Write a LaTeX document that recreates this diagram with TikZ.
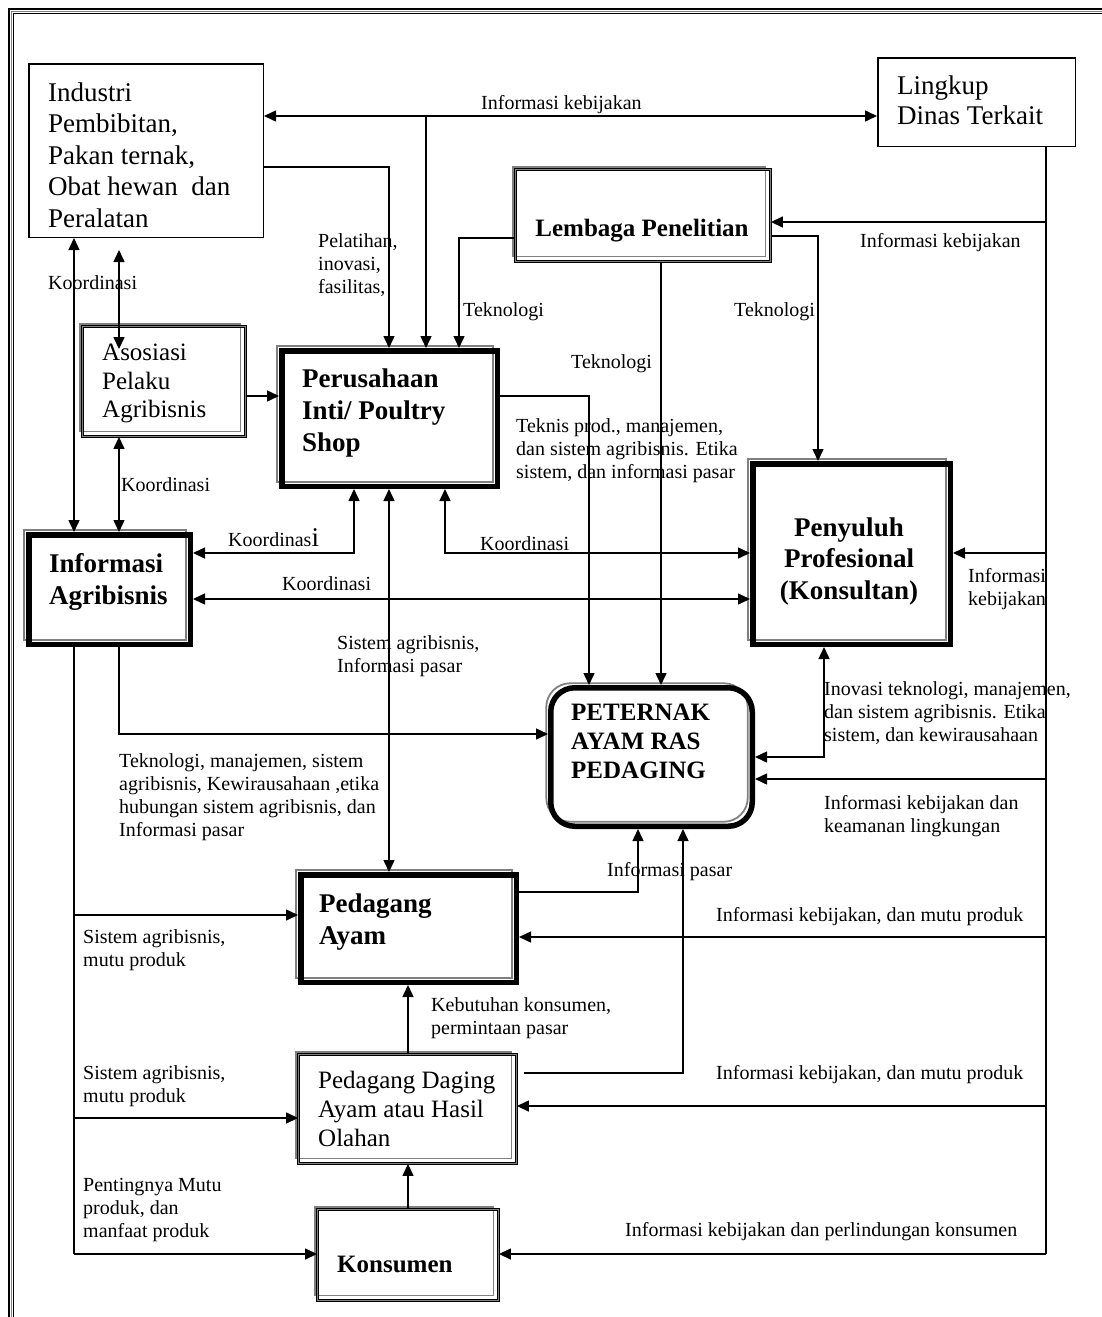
\documentclass[tikz,border=0pt]{standalone}
\usepackage{fontspec}
\setmainfont{Liberation Serif}
\usetikzlibrary{arrows.meta,calc,backgrounds}
\definecolor{edgegray}{gray}{0.5}
\newcommand\shadeframe[4][]{% #2 node, #3 half border width, #4 offset
  \draw[draw=edgegray, line width=1.8pt, #1] ([shift={(-#4+#3,#4-#3)}]#2.north west) rectangle ([shift={(-#4-#3,#4+#3)}]#2.south east);}
\begin{document}
\begin{tikzpicture}[x=1pt,y=-1pt,
  line/.style={line width=1.5pt},
  arr/.style={line, -{Triangle[length=12pt,width=11pt]}},
  dbl/.style={line, {Triangle[length=12pt,width=11pt]}-{Triangle[length=12pt,width=11pt]}},
  plainbox/.style={draw, line width=1.5pt, inner sep=0pt},
  thickbox/.style={draw, line width=5.5pt, inner sep=0pt},
  dblbox/.style={draw, line width=0.9pt, double=edgegray, double distance=1.6pt, inner sep=0pt},
  lab/.style={anchor=north west, inner sep=0pt, align=left, font=\fontsize{20}{23}\selectfont},
  txt/.style={anchor=north west, inner sep=0pt, align=left}
]
\useasboundingbox (0,0) rectangle (1102,1317);

% outer frame (top and left)
\draw[line width=2.5pt] (9,1317) -- (9,9) -- (1102,9);
\draw[draw=edgegray, line width=1.2pt] (11.5,1317) -- (11.5,11.5) -- (1102,11.5);
\draw[line width=1pt] (13.5,1317) -- (13.5,13.5) -- (1102,13.5);

% boxes
\node[plainbox, minimum width=234.5pt, minimum height=173.5pt] (ind) at (146,150.5) {};
\node[plainbox, minimum width=197.5pt, minimum height=88.5pt] (lin) at (976.5,102) {};
\node[dblbox, minimum width=255pt, minimum height=92pt] (lem) at (643,215.5) {};
\node[dblbox, minimum width=163pt, minimum height=110pt] (aso) at (164,381.5) {};
\node[thickbox, minimum width=215.5pt, minimum height=135.5pt] (per) at (389.5,418.5) {};
\node[thickbox, minimum width=161.5pt, minimum height=109.5pt] (inf) at (109.5,589.5) {};
\node[thickbox, minimum width=197.5pt, minimum height=180.5pt] (pen) at (851.5,554) {};
\node[thickbox, rounded corners=24pt, minimum width=201.5pt, minimum height=138.5pt] (pet) at (651.5,757) {};
\node[thickbox, minimum width=215.5pt, minimum height=107.5pt] (pay) at (408.5,928.5) {};
\node[dblbox, minimum width=218pt, minimum height=109pt] (pdg) at (407.5,1109) {};
\node[dblbox, minimum width=181pt, minimum height=91pt] (kon) at (408,1255) {};

% grey offset frames behind the borders
\begin{scope}[on background layer]
  \shadeframe{lem}{1.7pt}{3.8pt}
  \shadeframe{aso}{1.7pt}{3.8pt}
  \shadeframe{pdg}{1.7pt}{3.8pt}
  \shadeframe{kon}{1.7pt}{3.8pt}
  \shadeframe{per}{2.75pt}{4.5pt}
  \shadeframe{inf}{2.75pt}{4.5pt}
  \shadeframe{pen}{2.75pt}{4.5pt}
  \shadeframe{pay}{2.75pt}{4.5pt}
  \shadeframe[rounded corners=24pt]{pet}{2.75pt}{4.5pt}
\end{scope}

% box texts
\node[txt, font=\fontsize{27}{31.5}\selectfont] (ind-t) at (48,82.5) {Industri\\Pembibitan,\\Pakan ternak,\\Obat hewan~ dan\\Peralatan};
\node[txt, font=\fontsize{27}{30}\selectfont] (lin-t) at (897,75.5) {Lingkup\\Dinas Terkait};
\node[txt, font=\fontsize{25}{28.5}\selectfont] (aso-t) at (102,344) {Asosiasi\\Pelaku\\Agribisnis};
\node[txt, font=\fontsize{25}{29}\selectfont] (pdg-t) at (318,1071) {Pedagang Daging\\Ayam atau Hasil\\Olahan};
\node[txt, anchor=north, font=\fontsize{25}{29}\selectfont\bfseries] (lem-t) at (642,219) {Lembaga Penelitian};
\node[txt, font=\fontsize{27}{32}\selectfont\bfseries] (per-t) at (302,368.5) {Perusahaan\\Inti/ Poultry\\Shop};
\node[txt, font=\fontsize{27}{32}\selectfont\bfseries] (inf-t) at (49,553.5) {Informasi\\Agribisnis};
\node[txt, anchor=north, align=center, font=\fontsize{27}{31.5}\selectfont\bfseries] (pen-t) at (849,517.5) {Penyuluh\\Profesional\\(Konsultan)};
\node[txt, font=\fontsize{25}{29}\selectfont\bfseries] (pet-t) at (571,704) {PETERNAK\\AYAM RAS\\PEDAGING};
\node[txt, font=\fontsize{27}{32}\selectfont\bfseries] (pay-t) at (319,893.5) {Pedagang\\Ayam};
\node[txt, font=\fontsize{25}{29}\selectfont\bfseries] (kon-t) at (337,1256) {Konsumen};

% helper coordinates
\coordinate (j1) at (426,116);
\coordinate (c1) at (389,167);
\coordinate (c2) at (459,238);
\coordinate (c3) at (661,0);
\coordinate (c4) at (818,236);
\coordinate (bb) at (1046,0);
\coordinate (r1) at (1046,222);
\coordinate (r2) at (1046,553);
\coordinate (r3) at (1046,779);
\coordinate (r4) at (1046,937);
\coordinate (r5) at (1046,1106);
\coordinate (r6) at (1046,1254);
\coordinate (l0) at (74,0);
\coordinate (l4) at (74,915);
\coordinate (l5) at (74,1118);
\coordinate (l6) at (74,1254);
\coordinate (k1) at (119,0);
\coordinate (a1) at (0,396);
\coordinate (k3) at (354,553);
\coordinate (k4) at (445,553);
\coordinate (k5) at (0,599);
\coordinate (k6) at (389,0);
\coordinate (t1) at (589,396);
\coordinate (t2) at (119,734);
\coordinate (p1) at (824,757);
\coordinate (q1) at (638,892);
\coordinate (q2) at (683,1073);
\coordinate (m1) at (408,0);

% connectors
\draw[dbl] (ind.east |- j1) -- (lin.west |- j1);
\draw[arr] (j1) -- (j1 |- per.north);
\draw[arr] (ind.east |- c1) -| (c1 |- per.north);
\draw[arr] (lem.west |- c2) -| (c2 |- per.north);
\draw[arr] (lem.south -| c3) -- (c3 |- pet.north);
\draw[arr] (lem.east |- c4) -| (c4 |- pen.north);

\draw[line] (lin.south -| bb) -- (r6);
\draw[arr] (r1) -- (r1 -| lem.east);
\draw[arr] (r2) -- (r2 -| pen.east);
\draw[arr] (r3) -- (r3 -| pet.east);
\draw[arr] (r4) -- (r4 -| pay.east);
\draw[arr] (r5) -- (r5 -| pdg.east);
\draw[arr] (r6) -- (r6 -| kon.east);

\draw[dbl] (ind.south -| l0) -- (inf.north -| l0);
\draw[dbl] ($(ind.south -| k1)+(0,12)$) -- ($(aso.north -| k1)+(0,23)$);
\draw[dbl] (aso.south -| k1) -- (inf.north -| k1);
\draw[arr] (aso.east |- a1) -- (per.west |- a1);
\draw[dbl] (per.south -| k3) |- (inf.east |- k3);
\draw[dbl] (per.south -| k4) |- (pen.west |- k4);
\draw[dbl] (inf.east |- k5) -- (pen.west |- k5);
\draw[dbl] (per.south -| k6) -- (pay.north -| k6);
\draw[arr] (per.east |- t1) -| (t1 |- pet.north);
\draw[arr] (inf.south -| t2) |- (pet.west |- t2);

\draw[line] (inf.south -| l0) -- (l6);
\draw[arr] (l4) -- (l4 -| pay.west);
\draw[arr] (l5) -- (l5 -| pdg.west);
\draw[arr] (l6) -- (l6 -| kon.west);

\draw[dbl] (pen.south -| p1) |- (pet.east |- p1);
\draw[arr] (pay.east |- q1) -| (q1 |- pet.south);
\draw[arr] ($(pdg.east |- q2)+(7,0)$) -| (q2 |- pet.south);
\draw[arr] (pdg.north -| m1) -- (pay.south -| m1);
\draw[arr] (kon.north -| m1) -- (pdg.south -| m1);

% labels
\node[lab] (l-ik1) at (481,95) {Informasi kebijakan};
\node[lab] (l-pel) at (318,233) {Pelatihan,\\inovasi,\\fasilitas,};
\node[lab] (l-tek1) at (463,302) {Teknologi};
\node[lab] (l-tek2) at (734,302) {Teknologi};
\node[lab] (l-tek3) at (571,354) {Teknologi};
\node[lab] (l-ik2) at (860,233) {Informasi kebijakan};
\node[lab] (l-ko1) at (48,275) {Koordinasi};
\node[lab] (l-ko2) at (121,477) {Koordinasi};
\node[lab, anchor=base west] (l-ko3) at (228,546) {Koordinas{\fontsize{27}{27}\selectfont i}};
\node[lab] (l-ko4) at (480,536) {Koordinasi};
\node[lab] (l-ko5) at (282,576) {Koordinasi};
\node[lab] (l-tkn) at (516,418) {Teknis prod., manajemen,\\dan sistem agribisnis. Etika\\sistem, dan informasi pasar};
\node[lab] (l-ik3) at (968,568) {Informasi\\kebijakan};
\node[lab] (l-sis1) at (337,635) {Sistem agribisnis,\\Informasi pasar};
\node[lab] (l-ino) at (824,681) {Inovasi teknologi, manajemen,\\dan sistem agribisnis. Etika\\sistem, dan kewirausahaan};
\node[lab] (l-tmj) at (119,753) {Teknologi, manajemen, sistem\\agribisnis, Kewirausahaan ,etika\\hubungan sistem agribisnis, dan\\Informasi pasar};
\node[lab] (l-ik4) at (824,795) {Informasi kebijakan dan\\keamanan lingkungan};
\node[lab] (l-ip) at (607,862) {Informasi pasar};
\node[lab] (l-ik5) at (716,907) {Informasi kebijakan, dan mutu produk};
\node[lab] (l-sm1) at (83,929) {Sistem agribisnis,\\mutu produk};
\node[lab] (l-keb) at (431,997) {Kebutuhan konsumen,\\permintaan pasar};
\node[lab] (l-sm2) at (83,1065) {Sistem agribisnis,\\mutu produk};
\node[lab] (l-ik6) at (716,1065) {Informasi kebijakan, dan mutu produk};
\node[lab] (l-pm) at (83,1178) {Pentingnya Mutu\\produk, dan\\manfaat produk};
\node[lab] (l-ik7) at (625,1222) {Informasi kebijakan dan perlindungan konsumen};
\end{tikzpicture}
\end{document}
